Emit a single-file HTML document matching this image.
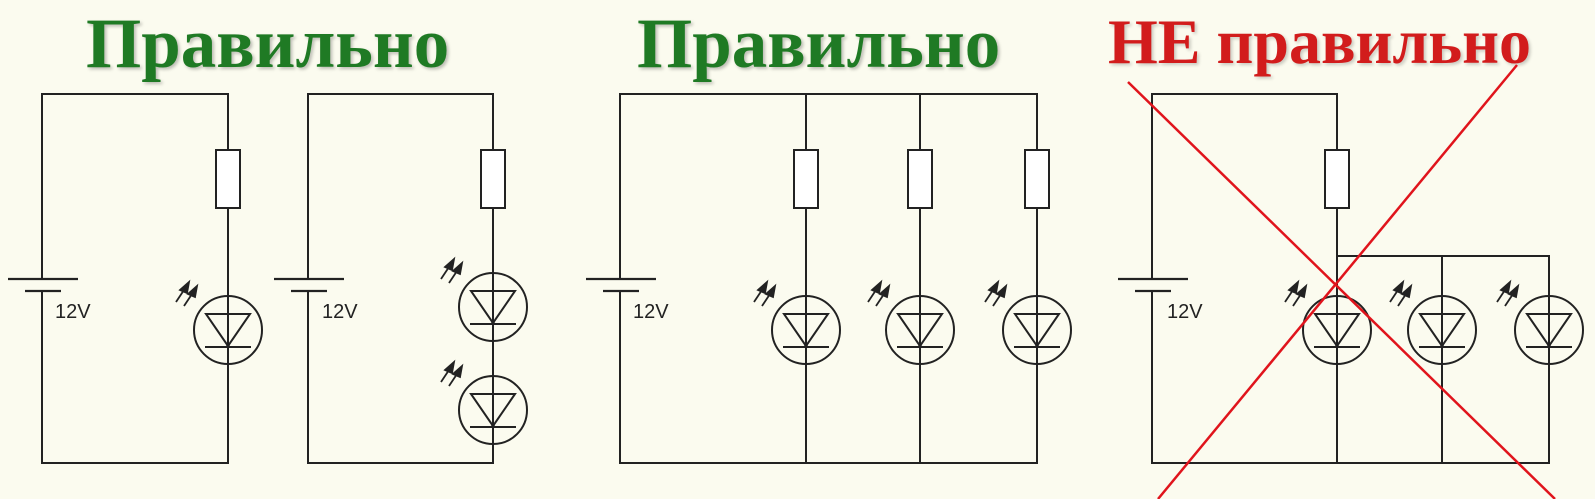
<!DOCTYPE html>
<html><head><meta charset="utf-8"><style>
html,body{margin:0;padding:0;background:#fbfbef;}
svg{display:block}
</style></head><body>
<svg width="1595" height="499" viewBox="0 0 1595 499" xmlns="http://www.w3.org/2000/svg">
<defs>
<g id="led">
  <circle cx="0" cy="0" r="34" fill="none" stroke="#222" stroke-width="2"/>
  <polygon points="-22,-16 22,-16 0,16" fill="none" stroke="#222" stroke-width="2"/>
  <line x1="-23" y1="17" x2="23" y2="17" stroke="#222" stroke-width="2"/>
  <circle cx="0" cy="16" r="1.8" fill="#222"/>
  <g stroke="#222" stroke-width="1.8" fill="#222">
    <line x1="-52" y1="-28" x2="-42" y2="-43"/>
    <polygon points="-39,-48 -48,-40 -41,-37"/>
    <line x1="-44" y1="-24" x2="-34" y2="-39"/>
    <polygon points="-31,-44 -40,-36 -33,-33"/>
  </g>
</g>
<g id="bat">
  <line x1="-34" y1="0" x2="36" y2="0" stroke="#222" stroke-width="2.2"/>
  <line x1="-17" y1="12" x2="19" y2="12" stroke="#222" stroke-width="2.2"/>
</g>
<rect id="res" x="-12" y="0" width="24" height="58" fill="#fff" stroke="#222" stroke-width="2"/>
</defs>
<g font-family="'Liberation Serif','Noto Serif CJK SC',serif" font-weight="bold">
<text x="86" y="67" font-size="71" fill="#1f7a24" style="text-shadow:2px 2px 3px rgba(0,0,0,.25)">Правильно</text>
<text x="637" y="67" font-size="71" fill="#1f7a24" style="text-shadow:2px 2px 3px rgba(0,0,0,.25)">Правильно</text>
<text x="1108" y="63" font-size="64" fill="#d21c1c" style="text-shadow:2px 2px 3px rgba(0,0,0,.2)">НЕ правильно</text>
</g>
<g fill="none" stroke="#222" stroke-width="2">
<polyline points="42,279 42,94 228,94 228,463 42,463 42,291"/>
<polyline points="308,279 308,94 493,94 493,463 308,463 308,291"/>
<polyline points="620,279 620,94 1037,94 1037,463 620,463 620,291"/>
<line x1="806" y1="94" x2="806" y2="463"/>
<line x1="920" y1="94" x2="920" y2="463"/>
<polyline points="1152,279 1152,94 1337,94 1337,463 1152,463 1152,291"/>
<polyline points="1337,256 1549,256 1549,463 1337,463"/>
<line x1="1442" y1="256" x2="1442" y2="463"/>
</g>
<g font-family="'Liberation Sans',sans-serif" font-size="20" fill="#222">
<text x="55" y="318">12V</text>
<text x="322" y="318">12V</text>
<text x="633" y="318">12V</text>
<text x="1167" y="318">12V</text>
</g>
<use href="#bat" x="42" y="279"/>
<use href="#bat" x="308" y="279"/>
<use href="#bat" x="620" y="279"/>
<use href="#bat" x="1152" y="279"/>
<use href="#res" x="228" y="150"/>
<use href="#res" x="493" y="150"/>
<use href="#res" x="806" y="150"/>
<use href="#res" x="920" y="150"/>
<use href="#res" x="1037" y="150"/>
<use href="#res" x="1337" y="150"/>
<use href="#led" x="228" y="330"/>
<use href="#led" x="493" y="307"/>
<use href="#led" x="493" y="410"/>
<use href="#led" x="806" y="330"/>
<use href="#led" x="920" y="330"/>
<use href="#led" x="1037" y="330"/>
<use href="#led" x="1337" y="330"/>
<use href="#led" x="1442" y="330"/>
<use href="#led" x="1549" y="330"/>
<g stroke="#e0141c" stroke-width="2.5">
<line x1="1128" y1="82" x2="1555" y2="499"/>
<line x1="1517" y1="65" x2="1158" y2="499"/>
</g>
</svg>
</body></html>
